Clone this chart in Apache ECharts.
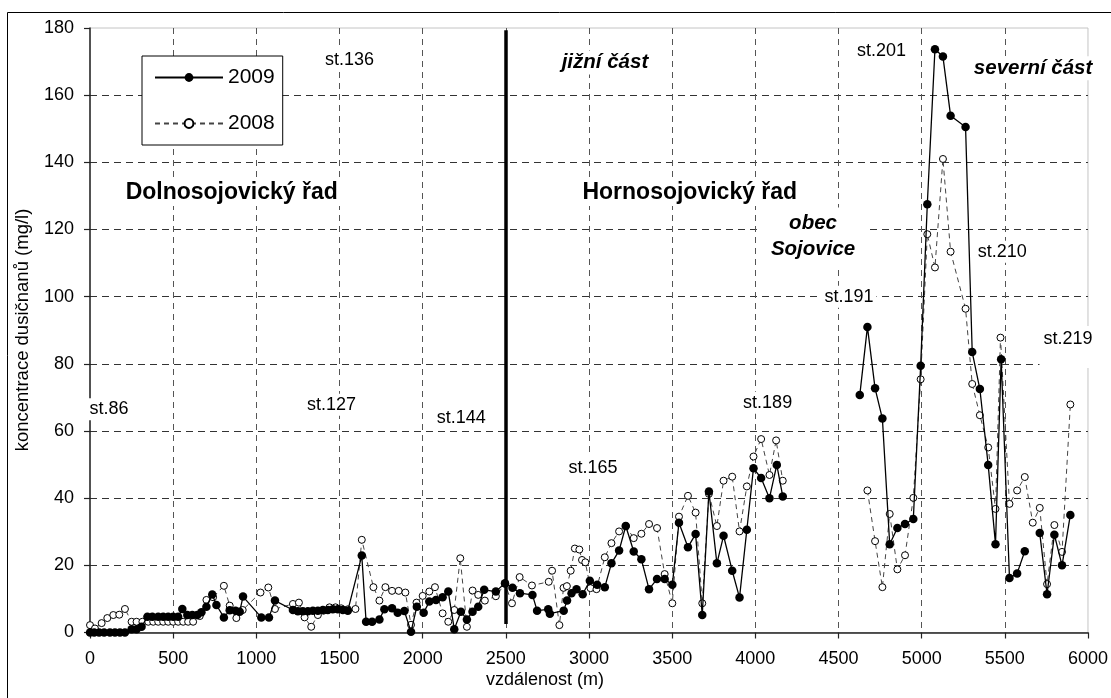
<!DOCTYPE html>
<html>
<head>
<meta charset="utf-8">
<script src="https://cdn.jsdelivr.net/npm/echarts@6/dist/echarts.min.js"></script>
<style>
html,body{margin:0;padding:0;background:#fff;}
#chart{width:1111px;height:698px;}
</style>
</head>
<body>
<div id="chart"></div>
<script>
// ---- data ----
const seriesNames = ['2009', '2008'];
const dist2009 = [0,25,55,85,120,150,180,210,250,280,310,345,375,410,440,470,500,530,555,585,615,645,670,700,735,760,805,840,875,900,920,1030,1076,1112,1220,1250,1280,1310,1340,1370,1400,1430,1460,1490,1520,1550,1634,1660,1696,1740,1770,1816,1850,1890,1930,1965,2006,2040,2080,2120,2154,2190,2230,2266,2300,2334,2370,2440,2495,2540,2585,2660,2688,2755,2765,2848,2868,2895,2925,2962,3005,3049,3095,3135,3181,3221,3269,3315,3361,3409,3455,3501,3541,3595,3641,3681,3721,3769,3809,3861,3905,3949,3989,4035,4085,4129,4165,4400,4628,4674,4720,4764,4808,4854,4900,4950,4994,5034,5080,5128,5174,5264,5304,5350,5400,5444,5478,5528,5574,5620,5665,5710,5754,5798,5844,5894];
const val2009 = [0,0,0,0,0,0,0,0,1,1,1.7,4.7,4.7,4.7,4.7,4.7,4.7,4.7,7,5.2,5.2,5.2,6,7.7,11.3,8.2,4.5,6.6,6.5,6.2,10.7,4.5,4.5,9.5,6.7,6.3,6.3,6.3,6.5,6.5,6.7,6.7,6.9,6.9,6.7,6.5,22.9,3.2,3.2,3.9,6.9,7.2,5.9,6.4,0.2,7.7,5.9,9.2,9.7,10.5,12.2,1.0,6.2,3.9,6.2,7.7,12.7,12.2,14.7,13.3,11.7,11.2,6.5,6.9,5.6,6.5,9.5,11.7,12.9,11.4,15.4,14.2,13.5,20.6,24.4,31.7,24.1,21.8,12.9,15.9,15.9,14.2,32.7,25.4,29.3,5.2,42.0,20.6,28.8,18.4,10.4,30.6,48.9,46.0,40.0,49.9,40.5,null,70.7,91.0,72.7,63.7,26.3,31.1,32.3,33.8,79.4,127.5,173.7,171.5,153.9,150.5,83.5,72.5,49.9,26.3,81.4,16.2,17.6,24.2,null,29.6,11.4,29.1,20.0,35.0];
const dist2008 = [0,30,70,104,140,176,210,250,280,315,350,380,410,440,470,500,530,560,590,620,660,700,740,805,840,880,918,1025,1072,1112,1220,1256,1290,1330,1370,1405,1440,1476,1510,1550,1596,1634,1704,1740,1776,1816,1856,1896,1930,1963,2000,2040,2074,2120,2154,2190,2226,2266,2300,2334,2374,2440,2495,2537,2583,2657,2758,2778,2822,2847,2867,2890,2915,2942,2958,2978,3009,3045,3095,3135,3181,3221,3269,3315,3361,3409,3455,3501,3541,3595,3641,3681,3721,3769,3809,3861,3905,3949,3989,4035,4085,4125,4165,4400,4674,4720,4764,4808,4854,4900,4950,4994,5034,5080,5128,5174,5264,5304,5350,5400,5444,5474,5528,5574,5620,5668,5710,5754,5798,5844,5894];
const val2008 = [2.2,1.2,2.8,4.3,5.2,5.3,7.0,3.2,3.2,3.2,3.2,3.2,3.2,3.2,3.2,3.2,3.2,3.2,3.2,3.2,4.9,9.7,10.5,13.9,8.0,4.3,6.7,11.9,13.4,7.0,8.5,8.9,4.5,1.7,5.2,6.5,7.5,7.5,7.2,6.9,7.0,27.6,13.5,9.5,13.5,12.4,12.4,11.9,2.3,8.9,10.9,12.2,13.5,5.7,3.2,6.7,22.1,1.7,12.5,11.2,9.5,10.8,14.5,8.7,16.5,14.0,15.1,18.4,2.2,13.3,13.8,18.4,25.0,24.7,21.6,20.9,13.2,12.9,22.4,26.6,30.1,31.7,28.1,29.4,32.3,31.1,17.4,8.7,34.5,40.7,35.7,8.7,41.3,31.7,45.2,46.4,30.1,43.5,52.4,57.6,46.9,57.2,45.2,null,42.3,27.2,13.5,35.3,18.8,23.0,40.1,75.4,118.6,108.7,141.0,113.4,96.4,74.0,64.7,55.1,36.8,87.8,38.3,42.3,46.3,32.7,37.1,14.4,32.0,24.0,67.9];
const dividerX = 2500;
const xAxisTitle = 'vzdálenost (m)';
const yAxisTitle = 'koncentrace dusičnanů (mg/l)';

// annotation texts placed in data coordinates
const annotations = [
  {text:'st.86', x:114, y:66.5, kind:'st'},
  {text:'st.127', x:1452, y:67.8, kind:'st'},
  {text:'st.136', x:1560, y:170.6, kind:'st'},
  {text:'st.144', x:2232, y:63.9, kind:'st'},
  {text:'st.165', x:3024, y:49.0, kind:'st'},
  {text:'st.189', x:4074, y:68.4, kind:'st'},
  {text:'st.191', x:4563, y:100, kind:'st'},
  {text:'st.201', x:4758, y:173, kind:'st'},
  {text:'st.210', x:5484, y:113.4, kind:'st'},
  {text:'st.219', x:5880, y:87.4, kind:'st219'},
  {text:'Dolnosojovický řad', x:852, y:131, kind:'big'},
  {text:'Hornosojovický řad', x:3606, y:131, kind:'big'},
  {text:'jižní část', x:3096, y:169.7, kind:'it'},
  {text:'severní část', x:5670, y:168, kind:'it'},
  {text:'obec\nSojovice', x:4347, y:117.9, kind:'obec'}
];

const FONT = "'Liberation Sans', Arial, sans-serif";
const toPairs = (xs, vs) => xs.map((d, i) => [d, vs[i] === null ? '-' : vs[i]]);

const chart = echarts.init(document.getElementById('chart'), null, {renderer:'canvas'});

const option = {
  animation: false,
  backgroundColor: '#fff',
  textStyle: {fontFamily: FONT},
  grid: {left: 90, right: 21, top: 28, bottom: 65.5, show: true, borderColor: '#c4c4c4', borderWidth: 1, backgroundColor: 'transparent'},
  legend: {
    data: seriesNames,
    orient: 'vertical',
    left: 142, top: 56,
    padding: [11, 8, 11, 12],
    itemWidth: 68, itemHeight: 11, itemGap: 25,
    borderColor: '#000', borderWidth: 1, backgroundColor: '#fff',
    textStyle: {fontSize: 21, color: '#000', fontFamily: FONT},
    selectedMode: false
  },
  xAxis: {
    type: 'value', min: 0, max: 6000, interval: 500,
    axisLine: {show: true, onZero: false, lineStyle: {color: '#222', width: 1.5}},
    axisTick: {show: true, length: 6, lineStyle: {color: '#222', width: 1.2}},
    axisLabel: {fontSize: 18, color: '#000', margin: 18, fontFamily: FONT, formatter: v => String(v)},
    splitLine: {show: true, showMinLine: false, showMaxLine: false, lineStyle: {color: '#555', width: 1, type: [6, 5]}}
  },
  yAxis: {
    type: 'value', min: 0, max: 180, interval: 20,
    axisLine: {show: true, lineStyle: {color: '#222', width: 1.5}},
    axisTick: {show: true, length: 6, lineStyle: {color: '#222', width: 1.2}},
    axisLabel: {fontSize: 18, color: '#000', margin: 16, fontFamily: FONT, formatter: v => String(v)},
    splitLine: {show: true, showMinLine: false, showMaxLine: false, lineStyle: {color: '#333', width: 1, type: [7, 5]}}
  },
  series: [
    {
      name: '2008', type: 'line', z: 2,
      data: toPairs(dist2008, val2008),
      connectNulls: false,
      symbol: 'circle', symbolSize: 7,
      itemStyle: {color: '#fff', borderColor: '#000', borderWidth: 1},
      lineStyle: {color: '#444', width: 1, type: [5, 4]},
      emphasis: {disabled: true}
    },
    {
      name: '2009', type: 'line', z: 3,
      data: toPairs(dist2009, val2009),
      connectNulls: false,
      symbol: 'circle', symbolSize: 8.5,
      itemStyle: {color: '#000'},
      lineStyle: {color: '#000', width: 1.3},
      emphasis: {disabled: true},
      markLine: {
        silent: true, symbol: 'none', label: {show: false},
        lineStyle: {color: '#000', width: 3.5, type: 'solid'},
        data: [[{coord: [dividerX, 2.5]}, {coord: [dividerX, 179.3]}]]
      }
    }
  ]
};
chart.setOption(option);

const styles = {
  st: {font: `18px ${FONT}`, padding: [2, 3]},
  st219: {font: `18px ${FONT}`, padding: [4, 4, 20, 4]},
  big: {font: `bold 23px ${FONT}`, padding: [2, 3]},
  it: {font: `italic bold 20.5px ${FONT}`, padding: [2, 3]},
  obec: {font: `italic bold 20.5px ${FONT}`, padding: [3, 14], lineHeight: 26}
};

const graphics = [
  {type: 'rect', silent: true, z: 0, shape: {x: 7.5, y: 12.5, width: 1200, height: 800}, style: {fill: 'none', stroke: '#000', lineWidth: 1}},
  {type: 'text', silent: true, z: 100, x: 545, y: 680, style: {text: xAxisTitle, font: `18px ${FONT}`, fill: '#000', align: 'center', verticalAlign: 'middle'}},
  {type: 'text', silent: true, z: 100, x: 23, y: 330, rotation: Math.PI / 2, style: {text: yAxisTitle, font: `18.5px ${FONT}`, fill: '#000', align: 'center', verticalAlign: 'middle'}}
];
annotations.forEach(a => {
  const p = chart.convertToPixel({gridIndex: 0}, [a.x, a.y]);
  const s = styles[a.kind];
  const st = {text: a.text, font: s.font, fill: '#000', align: 'center', verticalAlign: 'middle', backgroundColor: '#fff', padding: s.padding};
  if (s.lineHeight) st.lineHeight = s.lineHeight;
  if (a.kind === 'st219') st.verticalAlign = 'top';
  graphics.push({type: 'text', silent: true, z: 50, x: p[0], y: a.kind === 'st219' ? p[1] - 13 : p[1], style: st});
});
chart.setOption({graphic: graphics});
</script>
</body>
</html>
